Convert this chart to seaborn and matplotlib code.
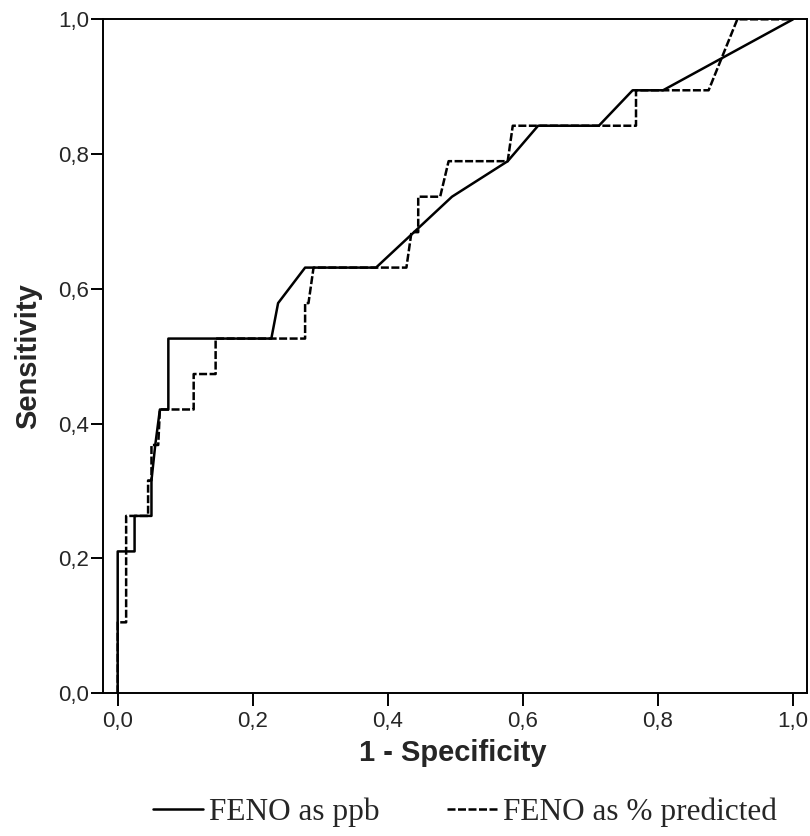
import matplotlib
matplotlib.use("Agg")
import pandas as pd
import matplotlib.pyplot as plt
import seaborn as sns

# ROC curve points (1 - specificity, sensitivity)
ppb_fpr = [0, 0, 0.025, 0.025, 0.05, 0.05, 0.0556, 0.0625, 0.075, 0.075, 0.2275,
           0.2375, 0.2775, 0.3825, 0.495, 0.5775, 0.6225, 0.7125, 0.7625, 0.8075, 1.0]
ppb_tpr = [0, 0.2105, 0.2105, 0.2632, 0.2632, 0.3158, 0.3684, 0.4211, 0.4211, 0.5263, 0.5263,
           0.5789, 0.6316, 0.6316, 0.7368, 0.7895, 0.8421, 0.8421, 0.8947, 0.8947, 1.0]

pct_fpr = [0, 0, 0.0125, 0.0125, 0.045, 0.045, 0.05, 0.05, 0.06, 0.0625, 0.1125,
           0.1125, 0.145, 0.145, 0.2775, 0.2775, 0.2825, 0.29, 0.4275, 0.435, 0.445,
           0.445, 0.4775, 0.49, 0.5775, 0.585, 0.7675, 0.7675, 0.875, 0.9175, 1.0]
pct_tpr = [0, 0.1053, 0.1053, 0.2632, 0.2632, 0.3158, 0.3158, 0.3684, 0.3684, 0.4211, 0.4211,
           0.4737, 0.4737, 0.5263, 0.5263, 0.5789, 0.5789, 0.6316, 0.6316, 0.6842, 0.6842,
           0.7368, 0.7368, 0.7895, 0.7895, 0.8421, 0.8421, 0.8947, 0.8947, 1.0, 1.0]

series_names = ["FENO as ppb", "FENO as % predicted"]
tick_values = [0.0, 0.2, 0.4, 0.6, 0.8, 1.0]
tick_labels = ["0,0", "0,2", "0,4", "0,6", "0,8", "1,0"]

df = pd.concat([
    pd.DataFrame({"fpr": ppb_fpr, "tpr": ppb_tpr, "curve": series_names[0]}),
    pd.DataFrame({"fpr": pct_fpr, "tpr": pct_tpr, "curve": series_names[1]}),
], ignore_index=True)

sns.set_style("ticks")
plt.rcParams["font.family"] = ["Liberation Sans", "DejaVu Sans"]

fig = plt.figure(figsize=(8.1, 8.36), dpi=100)
ax = fig.add_axes([0.1268, 0.1707, 0.8695, 0.8062])

sns.lineplot(
    data=df, x="fpr", y="tpr",
    hue="curve", style="curve",
    palette={series_names[0]: "black", series_names[1]: "black"},
    dashes={series_names[0]: "", series_names[1]: (3.2, 1.0)},
    estimator=None, sort=False, linewidth=1.8, ax=ax,
)

ax.set_xlim(-0.0222, 1.0207)
ax.set_ylim(0, 1)
ax.set_xticks(tick_values)
ax.set_xticklabels(tick_labels)
ax.set_yticks(tick_values)
ax.set_yticklabels(tick_labels)
ax.tick_params(axis="both", length=9, width=1.4, labelsize=16, color="black")
ax.tick_params(axis="x", pad=4)
ax.tick_params(axis="y", pad=1)
for s in ax.spines.values():
    s.set_linewidth(1.4)
    s.set_color("black")

ax.set_xlabel("1 - Specificity", fontsize=21, fontweight="bold", va="center")
ax.set_ylabel("Sensitivity", fontsize=21, fontweight="bold", va="center")
ax.xaxis.set_label_coords(0.497, -0.088)
ax.yaxis.set_label_coords(-0.106, 0.5)

handles, labels = ax.get_legend_handles_labels()
ax.get_legend().remove()
fig.legend(
    handles, labels, loc="center left", bbox_to_anchor=(153 / 810, 0.029),
    ncol=2, frameon=False, borderpad=0, borderaxespad=0,
    handlelength=1.6, handletextpad=0.2, columnspacing=2.15,
    prop={"family": ["Liberation Serif", "DejaVu Serif"], "size": 22.5},
)

fig.savefig("out.png", dpi=100)
